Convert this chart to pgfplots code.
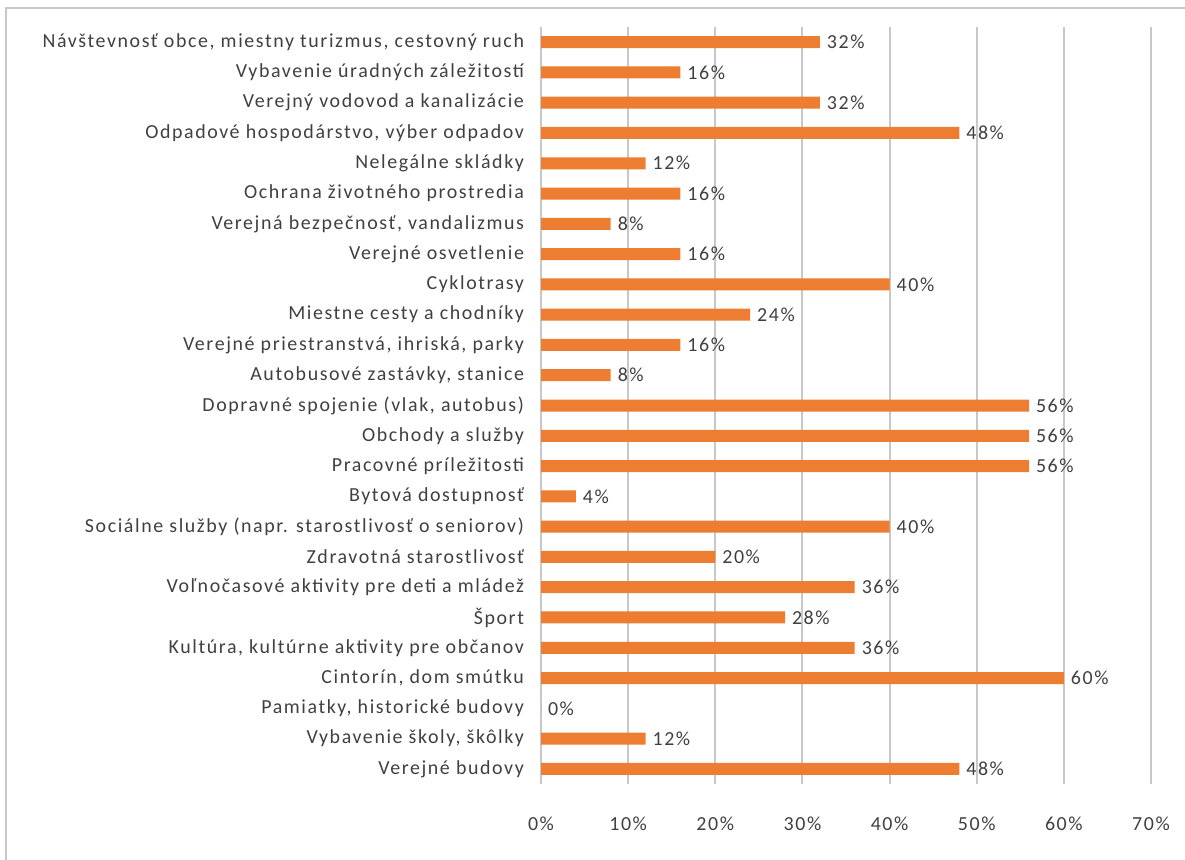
\documentclass[border=0pt]{standalone}
\usepackage{pgfplots}
\pgfplotsset{compat=1.18}
\usepackage{fontspec}
\setmainfont{Carlito}[LetterSpace=8]

\definecolor{bar}{HTML}{ED7D31}
\definecolor{grd}{HTML}{C8C8C8}
\definecolor{txt}{HTML}{404040}

\begin{document}
\begin{tikzpicture}[x=0.5bp,y=0.5bp]
% frame of the picture, 1185 x 859 px with 1 px = 0.5bp
\path[use as bounding box] (0,0) rectangle (1185,-859);
\draw[color=grd,line width=1bp] (6,-870) -- (6,-8) -- (1195,-8);
\coordinate (origin) at (541,-784);
\begin{axis}[
    at={(origin)}, anchor=south west,
    scale only axis,
    width=305bp, height=378.5bp,
    xbar, bar width=6bp, bar shift=0pt,
    xmin=0, xmax=70,
    ymin=-0.5, ymax=24.5,
    y dir=reverse,
    axis line style={draw=none},
    major tick length=0pt,
    xmajorgrids, grid style={grd, line width=1bp},
    xtick={0,10,...,70},
    xticklabel={\pgfmathprintnumber{\tick}\%},
    xticklabel style={yshift=-13bp},
    ytick={0,...,24},
    yticklabel style={xshift=-5bp},
    yticklabels={
      {Návštevnosť obce, miestny turizmus, cestovný ruch},
      {Vybavenie úradných záležitostí},
      {Verejný vodovod a kanalizácie},
      {Odpadové hospodárstvo, výber odpadov},
      {Nelegálne skládky},
      {Ochrana životného prostredia},
      {Verejná bezpečnosť, vandalizmus},
      {Verejné osvetlenie},
      {Cyklotrasy},
      {Miestne cesty a chodníky},
      {Verejné priestranstvá, ihriská, parky},
      {Autobusové zastávky, stanice},
      {Dopravné spojenie (vlak, autobus)},
      {Obchody a služby},
      {Pracovné príležitosti},
      {Bytová dostupnosť},
      {Sociálne služby (napr. starostlivosť o seniorov)},
      {Zdravotná starostlivosť},
      {Voľnočasové aktivity pre deti a mládež},
      {Šport},
      {Kultúra, kultúrne aktivity pre občanov},
      {Cintorín, dom smútku},
      {Pamiatky, historické budovy},
      {Vybavenie školy, škôlky},
      {Verejné budovy}},
    tick label style={font=\fontsize{10}{12}\selectfont, text=txt},
    /pgf/number format/assume math mode=true,
    nodes near coords={\pgfmathprintnumber{\pgfplotspointmeta}\%},
    point meta=x,
    nodes near coords style={font=\fontsize{10}{12}\selectfont, text=txt, anchor=west, xshift=0bp},
]
\addplot[fill=bar, draw=none] coordinates {
  (32,0) (16,1) (32,2) (48,3) (12,4) (16,5) (8,6) (16,7) (40,8) (24,9)
  (16,10) (8,11) (56,12) (56,13) (56,14) (4,15) (40,16) (20,17) (36,18)
  (28,19) (36,20) (60,21) (0,22) (12,23) (48,24)
};
\end{axis}
\end{tikzpicture}
\end{document}
